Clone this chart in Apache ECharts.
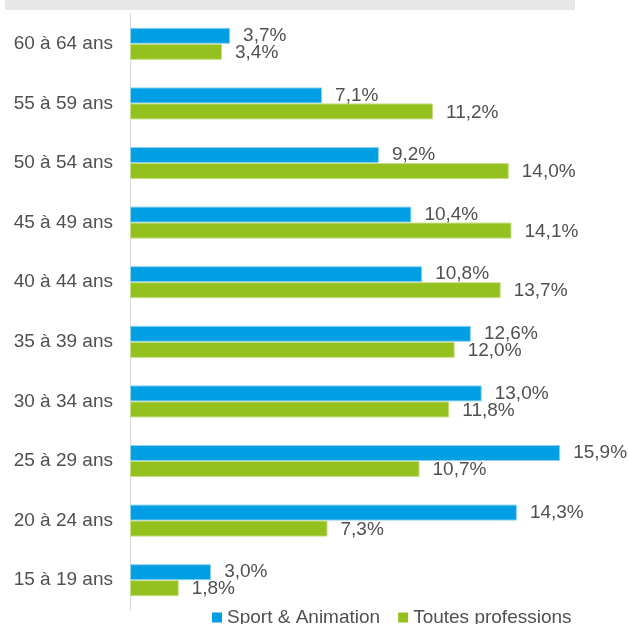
<!DOCTYPE html>
<html>
<head>
<meta charset="utf-8">
<script src="https://cdn.jsdelivr.net/npm/echarts@6/dist/echarts.min.js"></script>
<style>
  html, body { margin: 0; padding: 0; background: #fff; }
  #chart { width: 629px; height: 624px; }
</style>
</head>
<body>
<div id="chart"></div>
<script>
// tranches d'âge, du haut vers le bas
const ages = ['60 à 64 ans', '55 à 59 ans', '50 à 54 ans', '45 à 49 ans', '40 à 44 ans',
  '35 à 39 ans', '30 à 34 ans', '25 à 29 ans', '20 à 24 ans', '15 à 19 ans']
const sportAnimation = [3.7, 7.1, 9.2, 10.4, 10.8, 12.6, 13.0, 15.9, 14.3, 3.0]
const toutesProfessions = [3.4, 11.2, 14.0, 14.1, 13.7, 12.0, 11.8, 10.7, 7.3, 1.8]

let myChart = echarts.init(document.getElementById('chart'))

const fmt = (p) => p.value.toFixed(1).replace('.', ',') + '%'

let option = {
  animation: false,
  textStyle: { fontFamily: 'Liberation Sans, Arial, sans-serif' },
  graphic: [
    {
      type: 'rect',
      shape: { x: 5, y: 0, width: 570, height: 10 },
      style: { fill: '#e7e7e7' }
    }
  ],
  legend: {
    top: 603,
    left: 207,
    itemWidth: 10,
    itemHeight: 10,
    itemGap: 18,
    icon: 'rect',
    itemStyle: { borderWidth: 0 },
    textStyle: { fontSize: 19, color: '#505050' },
    data: ['Sport & Animation', 'Toutes professions']
  },
  grid: {
    left: 130,
    right: 12,
    top: 14,
    bottom: 14,
    containLabel: false
  },
  xAxis: {
    type: 'value',
    min: 0,
    max: 18,
    show: false
  },
  yAxis: {
    type: 'category',
    inverse: true,
    data: ages,
    axisTick: { show: false },
    axisLine: { lineStyle: { color: '#d9d9d9', width: 1 } },
    axisLabel: { fontSize: 19, color: '#505050', margin: 17 }
  },
  series: [
    {
      name: 'Sport & Animation',
      type: 'bar',
      data: sportAnimation,
      barWidth: 16,
      barGap: '0%',
      itemStyle: { color: '#009fe3', borderColor: '#8fd3f3', borderWidth: 1 },
      label: {
        show: true,
        position: 'right',
        distance: 13,
        fontSize: 19,
        color: '#505050',
        formatter: fmt
      }
    },
    {
      name: 'Toutes professions',
      type: 'bar',
      data: toutesProfessions,
      barWidth: 16,
      barGap: '0%',
      itemStyle: { color: '#95c11f', borderColor: '#c4de84', borderWidth: 1 },
      label: {
        show: true,
        position: 'right',
        distance: 13,
        offset: [0, 1],
        fontSize: 19,
        color: '#505050',
        formatter: fmt
      }
    }
  ]
}

myChart.setOption(option)
</script>
</body>
</html>
